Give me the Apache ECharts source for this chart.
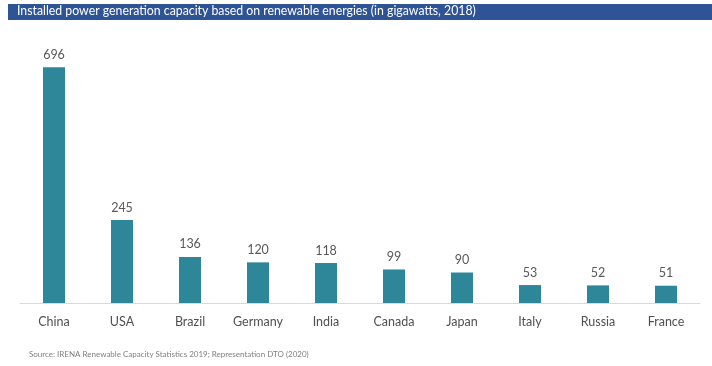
<!DOCTYPE html>
<html><head><meta charset="utf-8">
<script src="https://cdn.jsdelivr.net/npm/echarts@6/dist/echarts.min.js"></script>
<style>html,body{margin:0;padding:0;background:#fff}#c{width:712px;height:366px}</style>
</head><body><div id="c"></div>
<script>
const categories = ['China','USA','Brazil','Germany','India','Canada','Japan','Italy','Russia','France'];
const capacity = [696,245,136,120,118,99,90,53,52,51];
const titleText = 'Installed power generation capacity based on renewable energies (in gigawatts, 2018)';
const sourceText = 'Source: IRENA Renewable Capacity Statistics 2019; Representation DTO (2020)';

const chart = echarts.init(document.getElementById('c'));
chart.setOption({
  animation: false,
  grid: {left: 20, right: 12, top: 32, bottom: 63},
  graphic: [
    {type: 'rect', shape: {x: 8, y: 4, width: 704, height: 16}, style: {fill: '#2F5496'}},
    {type: 'text', x: 17, y: 4, scaleX: 0.945, style: {text: titleText, fill: '#fff', font: '13px Lato, sans-serif'}},
    {type: 'text', x: 29, y: 350, style: {text: sourceText, fill: '#808080', font: '8px Lato, sans-serif'}}
  ],
  xAxis: {
    type: 'category', data: categories,
    axisLine: {lineStyle: {color: '#d9d9d9', width: 1}},
    axisTick: {show: false},
    axisLabel: {interval: 0, color: '#505050', fontSize: 12.5, margin: 12, fontFamily: 'Lato, sans-serif'}
  },
  yAxis: {type: 'value', min: 0, max: 800, show: false, splitLine: {show: false}},
  series: [{
    type: 'bar', data: capacity, barWidth: 22,
    itemStyle: {color: '#2E8799'},
    label: {show: true, position: 'top', distance: 6, color: '#595959', fontSize: 12.5, fontFamily: 'Lato, sans-serif'}
  }]
});
</script></body></html>
